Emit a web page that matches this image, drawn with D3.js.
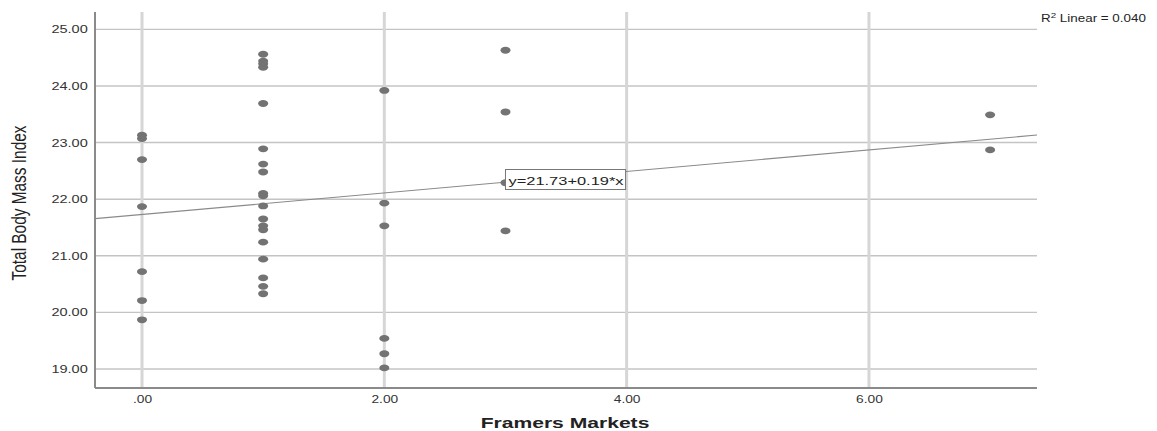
<!DOCTYPE html>
<html><head><meta charset="utf-8">
<script src="https://cdn.jsdelivr.net/npm/d3@7"></script>
<style>
html,body{margin:0;padding:0;background:#fff;}
svg{display:block;}
</style></head>
<body>
<svg id="chart" width="1157" height="431"></svg>
<script>
// ---- data ----
const markets = [0,0,0,0,0,0,0,
  1,1,1,1,1,1,1,1,1,1,1,1,1,1,1,1,1,1,1,
  2,2,2,2,2,2,
  3,3,3,3,
  7,7];
const bmi = [23.13,23.07,22.70,21.87,20.72,20.21,19.87,
  24.56,24.44,24.39,24.33,23.69,22.89,22.62,22.48,22.10,22.06,21.88,21.65,21.53,21.46,21.24,20.94,20.61,20.46,20.33,
  23.92,21.93,21.53,19.54,19.27,19.02,
  24.63,23.54,22.29,21.44,
  23.49,22.87];
const xTicks = [0,2,4,6];
const xTickLabels = [".00","2.00","4.00","6.00"];
const yTicks = [19,20,21,22,23,24,25];
const yTickLabels = ["19.00","20.00","21.00","22.00","23.00","24.00","25.00"];
const fitIntercept = 21.73, fitSlope = 0.19;
const fitLabel = "y=21.73+0.19*x";
const r2Label = "Linear = 0.040";
const xTitle = "Framers Markets";
const yTitle = "Total Body Mass Index";

// ---- layout ----
const L = 95, R = 1037, T = 12, B = 388;
const FONT = "Liberation Sans, Arial, sans-serif";
const svg = d3.select("#chart");
const x = d3.scaleLinear().domain([-0.388, 7.387]).range([L, R]);
const y = d3.scaleLinear().domain([18.665, 25.306]).range([B, T]);

// horizontal gridlines
svg.append("g").selectAll("line").data(yTicks).join("line")
  .attr("x1", L).attr("x2", R)
  .attr("y1", d => y(d)).attr("y2", d => y(d))
  .attr("stroke", "#c4c4c4").attr("stroke-width", 1.4);
// vertical gridlines
svg.append("g").selectAll("line").data(xTicks).join("line")
  .attr("x1", d => x(d)).attr("x2", d => x(d))
  .attr("y1", T).attr("y2", B)
  .attr("stroke", "#d6d6d6").attr("stroke-width", 3);

// axes
const yAxis = d3.axisLeft(y).tickValues(yTicks).tickFormat((d,i) => yTickLabels[i]).tickSize(0).tickPadding(5.5);
const gy = svg.append("g").attr("transform", `translate(${L},0)`).call(yAxis);
gy.select(".domain").attr("stroke", "#8a8a8a").attr("stroke-width", 2).attr("d", `M0,${T}V${B}`);
gy.selectAll("text").attr("font-family", FONT).attr("font-size", 11).attr("fill", "#333")
  .attr("transform", "scale(1.32,1)");

const xAxis = d3.axisBottom(x).tickValues(xTicks).tickFormat((d,i) => xTickLabels[i]).tickSize(0).tickPadding(7);
const gx = svg.append("g").attr("transform", `translate(0,${B})`).call(xAxis);
gx.select(".domain").attr("stroke", "#8a8a8a").attr("stroke-width", 2).attr("d", `M${L},0H${R}`);
gx.selectAll("text").attr("font-family", FONT).attr("font-size", 11).attr("fill", "#333")
  .attr("transform", "scale(1.25,1)");

// regression line
const xd = x.domain();
svg.append("line")
  .attr("x1", x(xd[0])).attr("y1", y(fitIntercept + fitSlope*xd[0]))
  .attr("x2", x(xd[1])).attr("y2", y(fitIntercept + fitSlope*xd[1]))
  .attr("stroke", "#8a8a8a").attr("stroke-width", 1.1);

// points
svg.append("g").selectAll("ellipse").data(bmi).join("ellipse")
  .attr("cx", (d,i) => x(markets[i])).attr("cy", d => y(d))
  .attr("rx", 5).attr("ry", 3.4)
  .attr("fill", "#737373");

// fit label box
const lbX = x(3), lbY = 169.5;
const lbl = svg.append("g").attr("transform", `translate(${lbX},${lbY})`);
const lt = lbl.append("text").attr("x", 0).attr("y", 0)
  .attr("transform", "translate(3,15) scale(1.43,1)")
  .attr("font-family", FONT).attr("font-size", 11.5).attr("fill", "#222")
  .text(fitLabel);
const bw = lt.node().getBBox().width * 1.43;
lbl.insert("rect", "text").attr("x", 0).attr("y", 0).attr("width", bw + 5).attr("height", 20)
  .attr("fill", "#fff").attr("stroke", "#777").attr("stroke-width", 1);

// R2 label
const r2 = svg.append("text").attr("transform", "translate(1041,22) scale(1.22,1)")
  .attr("font-family", FONT).attr("font-size", 11).attr("fill", "#222");
r2.append("tspan").text("R");
r2.append("tspan").attr("dy", -4).attr("font-size", 8).text("2");
r2.append("tspan").attr("dy", 4).text(" " + r2Label);

// axis titles
svg.append("text").attr("transform", `translate(565,428) scale(1.36,1)`)
  .attr("text-anchor", "middle")
  .attr("font-family", FONT)
  .attr("font-weight", "bold").attr("font-size", 15.5).attr("fill", "#222")
  .text(xTitle);
svg.append("text").attr("transform", `translate(26,203) scale(1.3,1) rotate(-90)`)
  .attr("text-anchor", "middle")
  .attr("font-family", FONT)
  .attr("font-size", 15.4).attr("fill", "#222")
  .text(yTitle);
</script>
</body></html>
